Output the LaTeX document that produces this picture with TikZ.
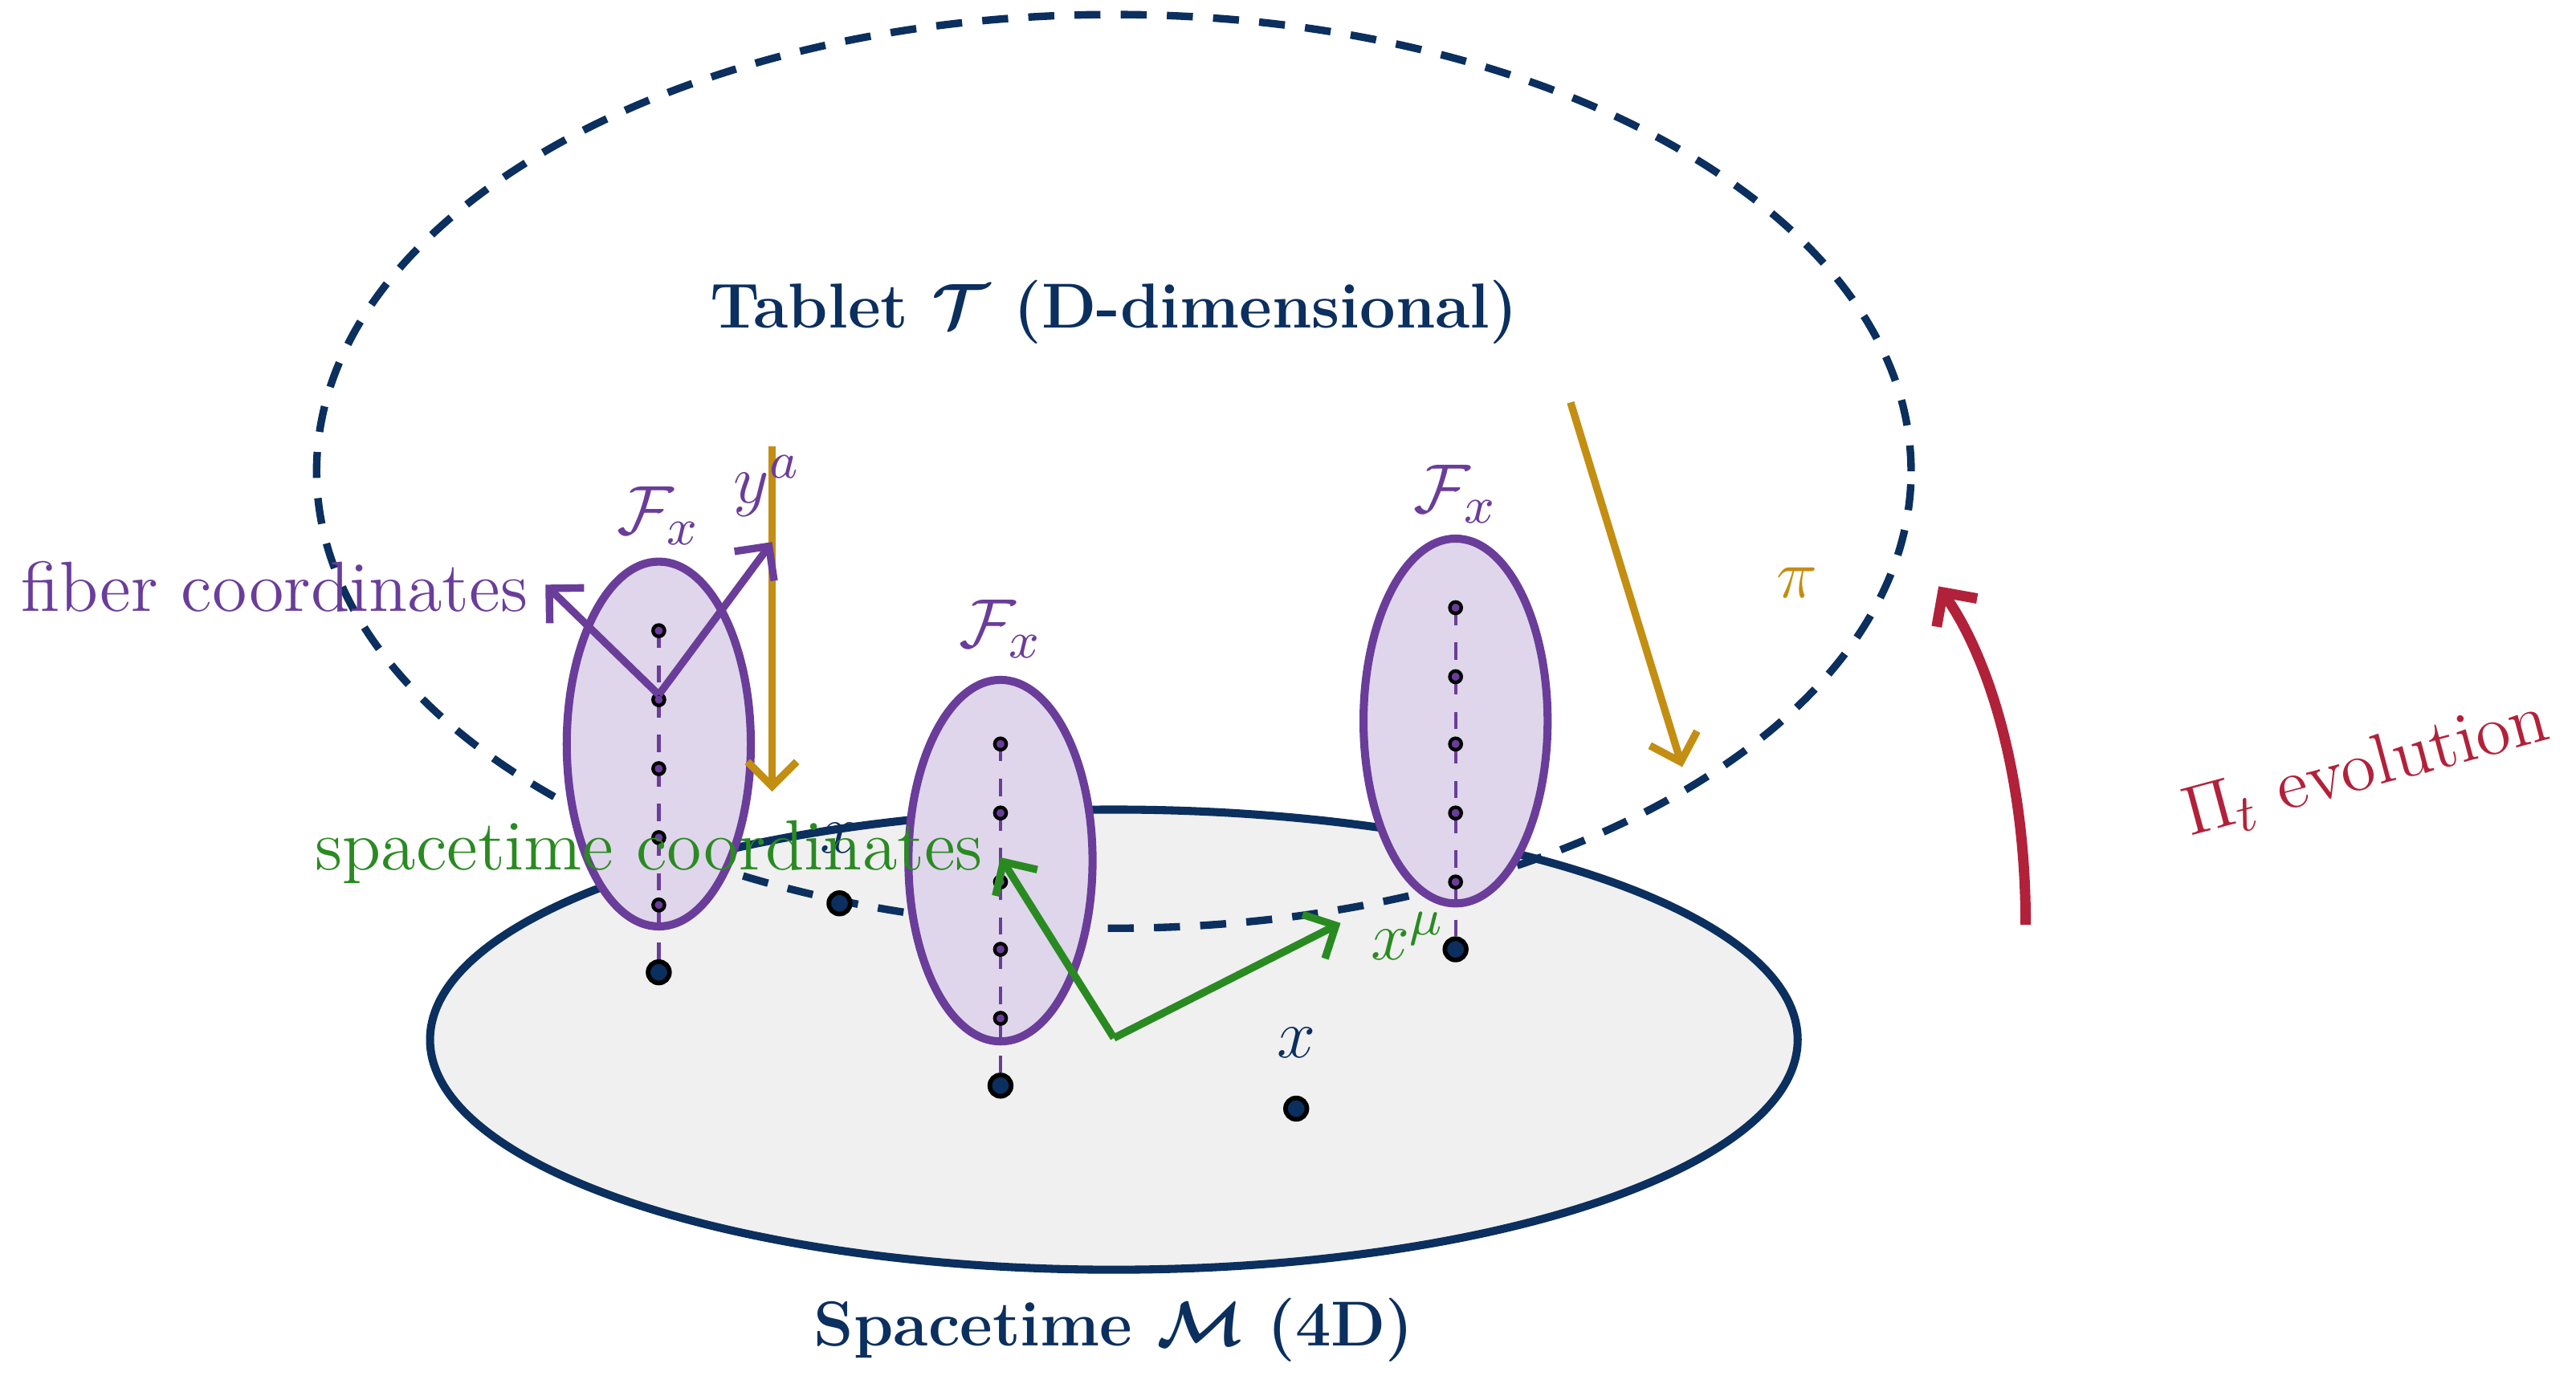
\documentclass[tikz,border=0pt]{standalone}
\usepackage{amsmath}
\usetikzlibrary{shapes.geometric,arrows.meta}
\definecolor{navy}{HTML}{0B2F5E}
\definecolor{purp}{HTML}{6A3D9A}
\definecolor{purpl}{HTML}{DFD6EB}
\definecolor{gold}{HTML}{C38E12}
\definecolor{grn}{HTML}{2A8A22}
\definecolor{crim}{HTML}{B2213A}
\tikzset{
  fiber/.style={ellipse,draw=purp,fill=purpl,line width=1.4pt,minimum width=1.12cm,minimum height=2.22cm,inner sep=0pt},
  fdot/.style={circle,draw=black,fill=purp,line width=0.6pt,minimum size=0.07cm,inner sep=0pt},
  bdot/.style={circle,draw=black,fill=navy,line width=0.8pt,minimum size=0.13cm,inner sep=0pt},
  vline/.style={purp,dashed,line width=0.6pt},
  arr/.style={-{Straight Barb[length=1.5mm]},line width=1.3pt},
  lbl/.style={font=\fontsize{12.3}{14}\selectfont},
  ttl/.style={font=\fontsize{11}{13}\selectfont\bfseries,text=navy},
}
\begin{document}
\begin{tikzpicture}[x=0.01cm,y=-0.01cm]
\useasboundingbox (0,0) rectangle (1568,845);
% spacetime
\node[ellipse,draw=navy,fill=black!6,line width=1.4pt,minimum width=8.32cm,minimum height=2.8cm] (M) at (678,633) {};
\node[ttl] (Mlab) at (678,810) {Spacetime $\boldsymbol{\mathcal{M}}$ (4D)};
% tablet
\node[ellipse,draw=navy,dash pattern=on 4.5pt off 3.5pt,line width=1.3pt,minimum width=9.7cm,minimum height=5.56cm] (T) at (678,287) {};
\node[ttl] (Tlab) at (678,190) {Tablet $\boldsymbol{\mathcal{T}}$ (D-dimensional)};
% fibers
\node[fiber] (F1) at (401,453) {};
\node[fiber,minimum height=2.2cm] (F2) at (609,524) {};
\node[fiber] (F3) at (886,439) {};
% base points
\node[bdot] (b1) at (401,592) {};
\node[bdot] (b2) at (609,661) {};
\node[bdot] (b3) at (886,578) {};
\node[bdot] (b4) at (511,550) {};
\node[bdot] (b5) at (789,675) {};
\node[lbl,text=navy] (x4) at (511,510) {$x$};
\node[lbl,text=navy] (x5) at (789,635) {$x$};
% vertical dashed lines
\coordinate (t1) at (401,384); \coordinate (t2) at (609,453); \coordinate (t3) at (886,370);
\draw[vline] (t1) -- (b1);
\draw[vline] (t2) -- (b2);
\draw[vline] (t3) -- (b3);
% fiber dots
\foreach \i/\y in {1/384,2/426,3/468,4/510,5/551} \node[fdot] (d1\i) at (401,\y) {};
\foreach \i/\y in {1/453,2/495,3/537,4/578,5/620} \node[fdot] (d2\i) at (609,\y) {};
\foreach \i/\y in {1/370,2/412,3/453,4/495,5/537} \node[fdot] (d3\i) at (886,\y) {};
% fiber labels
\node[lbl,text=purp] (L1) at (401,314) {$\mathcal{F}_x$};
\node[lbl,text=purp] (L2) at (609,383) {$\mathcal{F}_x$};
\node[lbl,text=purp] (L3) at (886,301) {$\mathcal{F}_x$};
% projection arrows
\coordinate (g1s) at (470,272); \coordinate (g1e) at (470,482);
\coordinate (g2s) at (956,245); \coordinate (g2e) at (1024,467);
\draw[arr,gold] (g1s) -- (g1e);
\draw[arr,gold] (g2s) -- (g2e);
\node[lbl,text=gold] (pi) at (1094,355) {$\pi$};
% fiber coordinates
\coordinate (po) at (401,423); \coordinate (pa) at (332,356); \coordinate (pb) at (470,330);
\draw[arr,purp] (po) -- (pa);
\draw[arr,purp] (po) -- (pb);
\node[lbl,text=purp] (ya) at (467,296) {$y^a$};
\node[lbl,text=purp] (fc) at (167,357) {fiber coordinates};
% spacetime coordinates
\coordinate (go) at (678,632); \coordinate (ga) at (609,522); \coordinate (gb) at (816,562);
\draw[arr,grn] (go) -- (ga);
\draw[arr,grn] (go) -- (gb);
\node[lbl,text=grn] (xm) at (857,570) {$x^\mu$};
\node[lbl,text=grn] (sc) at (395,519) {spacetime coordinates};
% evolution
\coordinate (rs) at (1233,563); \coordinate (re) at (1180,357);
\draw[arr,crim,line width=1.8pt] (rs) .. controls (1233,470) and (1210,400) .. (re);
\node[lbl,text=crim,rotate=15] (ev) at (1440,468) {$\Pi_t$ evolution};
\end{tikzpicture}
\end{document}
